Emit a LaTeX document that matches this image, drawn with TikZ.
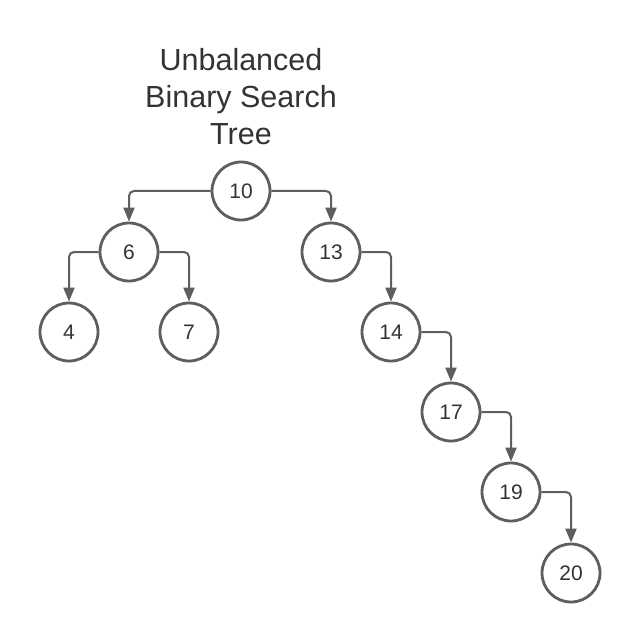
\documentclass[tikz,border=0pt]{standalone}
\usepackage{fontspec}
\setmainfont{Liberation Sans}
\usetikzlibrary{arrows.meta}
\definecolor{edgegray}{HTML}{5E5E5E}
\definecolor{txtgray}{HTML}{333333}
\begin{document}
\begin{tikzpicture}[x=1pt,y=-1pt,
  treenode/.style={circle,draw=edgegray,line width=2.8pt,minimum size=58pt,inner sep=0pt,
    text=txtgray,font=\fontsize{21}{25}\selectfont},
  link/.style={draw=edgegray,line width=2pt,rounded corners=5pt,
    -{Triangle[length=14pt,width=11pt]}}]
\useasboundingbox[fill=white] (0,0) rectangle (642,644);
\node[text=txtgray,align=center,font=\fontsize{30.5}{37}\selectfont] (title) at (241,97) {Unbalanced\\Binary Search\\Tree};
\node[treenode] (n10) at (241,191) {10};
\node[treenode] (n6) at (129,252) {6};
\node[treenode] (n13) at (331,252) {13};
\node[treenode] (n4) at (69,332) {4};
\node[treenode] (n7) at (189,332) {7};
\node[treenode] (n14) at (391,332) {14};
\node[treenode] (n17) at (451,412) {17};
\node[treenode] (n19) at (511,492) {19};
\node[treenode] (n20) at (571,573) {20};
\draw[link] (n10.west) -| (n6.north);
\draw[link] (n10.east) -| (n13.north);
\draw[link] (n6.west) -| (n4.north);
\draw[link] (n6.east) -| (n7.north);
\draw[link] (n13.east) -| (n14.north);
\draw[link] (n14.east) -| (n17.north);
\draw[link] (n17.east) -| (n19.north);
\draw[link] (n19.east) -| (n20.north);
\end{tikzpicture}
\end{document}
